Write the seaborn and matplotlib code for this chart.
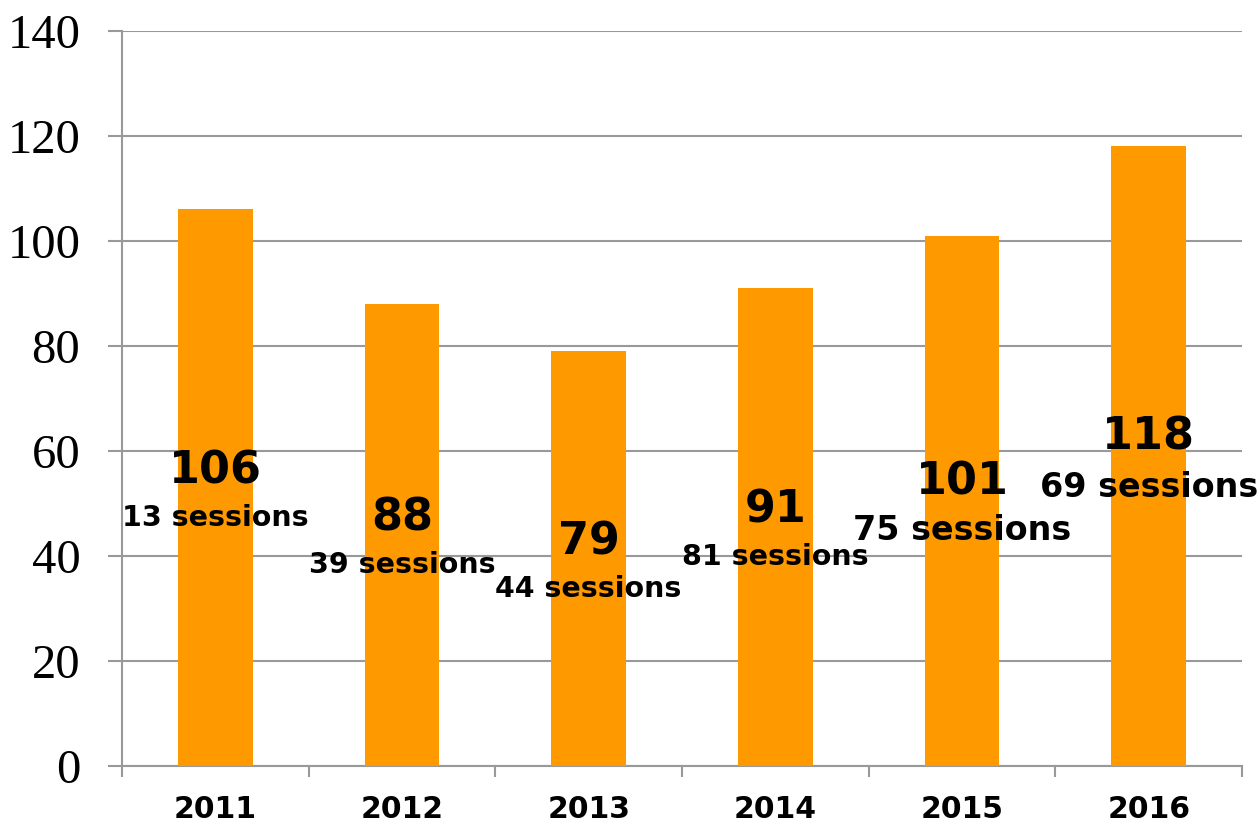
import numpy as np
import pandas as pd
import matplotlib
matplotlib.use('Agg')
import matplotlib.pyplot as plt
import seaborn as sns

# --- data ---
years = ['2011', '2012', '2013', '2014', '2015', '2016']
totals = [106, 88, 79, 91, 101, 118]
sessions = [13, 39, 44, 81, 75, 69]

# where the two-line labels sit (value units), as in the original
label_num_y = [56.2, 47.2, 42.7, 48.8, 54.1, 62.7]
label_ses_y = [47.2, 38.3, 33.7, 39.8, 44.8, 53.1]
label_ses_size = [20.5, 20.5, 20.5, 20.5, 24, 24]

df = pd.DataFrame({'year': years, 'total': totals})

sns.set_style('white')
plt.rcParams['text.color'] = 'black'
plt.rcParams['xtick.color'] = 'black'
plt.rcParams['ytick.color'] = 'black'

fig = plt.figure(figsize=(12.6, 8.24), dpi=100)
ax = fig.add_axes([0.0968, 0.0704, 0.8889, 0.892])

sns.barplot(data=df, x='year', y='total', color='#FF9900', width=0.4,
            saturation=1, linewidth=0, ax=ax, zorder=3)

ax.set_ylim(0, 140)
ax.set_xlim(-0.5, len(years) - 0.5)
ax.set_yticks(range(0, 141, 20))
ax.yaxis.grid(True, color='#999999', linewidth=1.5, zorder=0)
ax.set_axisbelow(True)

for s in ['top', 'right']:
    ax.spines[s].set_visible(False)
for s in ['left', 'bottom']:
    ax.spines[s].set_color('#999999')
    ax.spines[s].set_linewidth(1.5)

ax.set_xlabel('')
ax.set_ylabel('')

# y ticks: serif numbers with outward tick marks
ax.tick_params(axis='y', left=True, length=10, width=1.5, color='#999999',
               pad=20, labelsize=35, labelcolor='black')
for t in ax.get_yticklabels():
    t.set_fontfamily('Liberation Serif')

# x ticks: labels at centres, tick marks at category boundaries
ax.tick_params(axis='x', which='major', bottom=True, length=0, pad=21,
               labelsize=21.5, labelcolor='black')
for t in ax.get_xticklabels():
    t.set_fontweight('bold')
    t.set_fontfamily('DejaVu Sans')
ax.set_xticks(np.arange(-0.5, len(years), 1.0), minor=True)
ax.tick_params(axis='x', which='minor', bottom=True, length=8, width=1.5,
               color='#999999')

for i in range(len(years)):
    ax.text(i, label_num_y[i], str(totals[i]), ha='center', va='center',
            fontsize=32, fontweight='bold', fontfamily='DejaVu Sans',
            color='black', zorder=5)
    ax.text(i, label_ses_y[i], f'{sessions[i]} sessions', ha='center', va='center',
            fontsize=label_ses_size[i], fontweight='bold', fontfamily='DejaVu Sans',
            color='black', zorder=5)

fig.savefig('out.png', dpi=100)
